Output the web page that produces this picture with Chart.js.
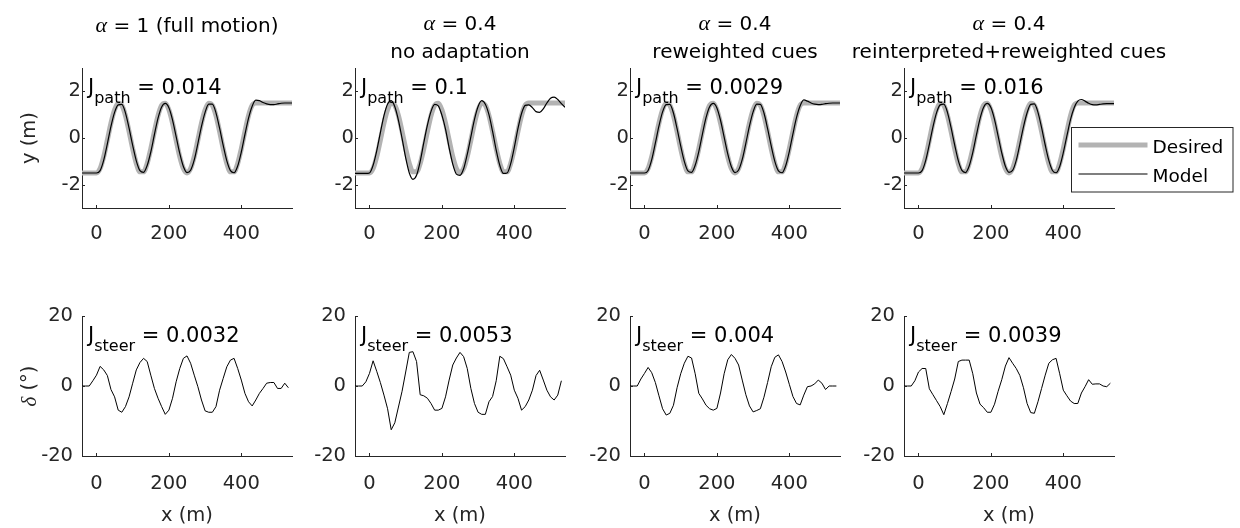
<!DOCTYPE html>
<html>
<head>
<meta charset="utf-8">
<script src="https://cdn.jsdelivr.net/npm/chart.js@4.4.0/dist/chart.umd.min.js"></script>
<style>
  html, body { margin: 0; padding: 0; background: #fff; }
  #fig { position: relative; width: 1240px; height: 528px; overflow: hidden; }
  #fig canvas { position: absolute; }
</style>
</head>
<body>
<div id="fig"></div>
<script>
// x positions along the track (m)
var xPath = [-40,-30,-20,-10,0,10,20,30,40,50,60,70,80,90,100,110,120,130,140,150,160,170,180,190,200,
  210,220,230,240,250,260,270,280,290,300,310,320,330,340,350,360,370,380,390,400,410,420,430,440,450,
  460,470,480,490,500,510,520,530,540];
var xSteer = [-40,-30,-20,-10,0,10,20,30,40,50,60,70,80,90,100,110,120,130,140,150,160,170,180,190,200,
  210,220,230,240,250,260,270,280,290,300,310,320,330,340,350,360,370,380,390,400,410,420,430,440,450,
  460,470,480,490,500,510,520,530];

// desired lateral path (m)
var yDesired = [-1.5,-1.5,-1.5,-1.5,-1.5,-1.31,-0.8,-0.09,0.64,1.21,1.49,1.4,0.96,0.28,-0.46,-1.09,-1.45,
  -1.45,-1.09,-0.46,0.28,0.96,1.4,1.49,1.21,0.64,-0.09,-0.8,-1.31,-1.5,-1.31,-0.8,-0.09,0.64,1.21,1.49,
  1.4,0.96,0.28,-0.46,-1.09,-1.45,-1.45,-1.09,-0.46,0.28,0.96,1.4,1.5,1.5,1.5,1.5,1.5,1.5,1.5,1.5,1.5,1.5,1.5];

// model lateral path (m), one per condition
var yModelFull = [-1.5,-1.5,-1.5,-1.5,-1.5,-1.4,-0.95,-0.25,0.5,1.1,1.42,1.44,1.08,0.42,-0.32,-0.98,-1.4,
  -1.47,-1.18,-0.6,0.15,0.85,1.33,1.48,1.3,0.78,0.06,-0.66,-1.22,-1.48,-1.38,-0.94,-0.24,0.5,1.1,1.45,
  1.45,1.08,0.42,-0.32,-0.98,-1.4,-1.49,-1.2,-0.6,0.15,0.85,1.36,1.62,1.6,1.52,1.46,1.43,1.43,1.46,1.49,1.5,1.5,1.5];
var yModelNoAdapt = [-1.52,-1.52,-1.52,-1.52,-1.5,-1.17,-0.55,0.22,0.96,1.46,1.6,1.34,0.76,-0.02,-0.85,-1.5,
  -1.77,-1.6,-1.0,-0.2,0.55,1.14,1.44,1.38,0.98,0.38,-0.42,-1.12,-1.55,-1.6,-1.32,-0.7,0.05,0.8,1.35,1.6,
  1.45,1.0,0.28,-0.52,-1.18,-1.52,-1.5,-1.1,-0.4,0.4,1.05,1.4,1.42,1.3,1.13,1.1,1.25,1.5,1.7,1.75,1.65,1.47,1.32];
var yModelReweight = [-1.5,-1.5,-1.5,-1.5,-1.5,-1.39,-0.93,-0.22,0.52,1.12,1.43,1.44,1.07,0.4,-0.34,-1.0,-1.41,
  -1.47,-1.17,-0.58,0.17,0.87,1.34,1.48,1.29,0.76,0.04,-0.68,-1.23,-1.48,-1.37,-0.92,-0.22,0.52,1.12,1.45,
  1.44,1.07,0.4,-0.34,-1.0,-1.41,-1.49,-1.19,-0.58,0.18,0.88,1.38,1.63,1.58,1.5,1.45,1.43,1.44,1.47,1.49,1.5,1.5,1.5];
var yModelReinterp = [-1.5,-1.5,-1.5,-1.5,-1.5,-1.4,-0.96,-0.27,0.48,1.09,1.42,1.45,1.1,0.44,-0.3,-0.97,-1.39,
  -1.48,-1.2,-0.62,0.13,0.83,1.32,1.48,1.31,0.8,0.08,-0.64,-1.21,-1.47,-1.39,-0.96,-0.26,0.48,1.08,1.44,
  1.46,1.1,0.44,-0.3,-0.96,-1.39,-1.49,-1.22,-0.63,0.1,0.8,1.3,1.58,1.65,1.58,1.49,1.43,1.42,1.44,1.46,1.47,1.47,1.47];

// steering angle (deg), one per condition
var steerFull = [0,0,0,1.5,3.1,5.6,4.6,3,-1,-3.1,-6.9,-7.5,-5.9,-3.1,0.8,4.6,6.7,7.9,7,3.1,-0.7,-3.5,-5.9,
  -8.1,-6.9,-3.5,1.2,5,7.9,8.6,6.5,3.1,-0.2,-4,-7.1,-7.5,-7.5,-5.9,-1.2,2.2,5.5,7.4,7.9,5,1.7,-2.1,-4.5,
  -5.7,-4,-2.1,-0.7,0.8,1,1,-0.7,-0.7,0.8,-0.5];
var steerNoAdapt = [0,0,0,1.2,3.6,7.2,4.2,1,-2.6,-6.5,-12.5,-10.5,-6,-1.5,4,9.6,9.8,7,-2.5,-2.8,-3.5,-5,-6.9,
  -6.9,-6.4,-3.1,1.7,6,8,9.6,8.4,5,-0.7,-5,-7.5,-8.1,-8.1,-4.5,-3,1.5,8.5,7.8,5.5,3.1,-1.2,-3.5,-6.9,
  -5.9,-4,-1.2,3,4.5,1.7,-1.2,-3.1,-4,-2.6,1.5];
var steerReweight = [0,0,0,2,3.6,5.3,3.8,1,-2.8,-6.5,-8.3,-7.8,-5.5,-0.5,3.5,6.5,8.5,8,3.5,-2.1,-3.7,-5.5,
  -6.5,-6.9,-6.4,-2,3.5,7.5,9,7.9,6,1.7,-2.5,-5.7,-7.4,-7,-6.5,-3.2,1,5.5,8.2,8.9,7,4,0.5,-3,-5,-5.4,
  -2.6,-0.2,0,0.6,1.7,0.8,-1,0,0,0];
var steerReinterp = [0,0,0,1.5,4,5,5,-0.8,-2.5,-4.2,-5.9,-8.2,-5,-1.6,2,7,7.4,7.4,7.4,3.5,-2,-5.2,-6.2,
  -7.5,-7.5,-5.2,-1.5,1.8,5.7,8.1,6.5,5,3,-0.5,-5,-7.6,-7.8,-4.5,-0.7,3.1,6.5,7.5,7.9,3.5,-1.2,-2.8,-4.3,
  -5,-5,-2,-0.2,1.8,0.5,0.6,0.6,0,-0.2,0.8];

var modelPaths = [yModelFull, yModelNoAdapt, yModelReweight, yModelReinterp];
var steerSeries = [steerFull, steerNoAdapt, steerReweight, steerReinterp];

// panel titles: alpha value and condition
var alphaLabels = ['1 (full motion)', '0.4', '0.4', '0.4'];
var conditionLabels = ['', 'no adaptation', 'reweighted cues', 'reinterpreted+reweighted cues'];
var jPath = ['0.014', '0.1', '0.0029', '0.016'];
var jSteer = ['0.0032', '0.0053', '0.004', '0.0039'];

var xTicks = [0, 200, 400];
var pathTicks = [-2, 0, 2];
var steerTicks = [-20, 0, 20];

var SANS = '"DejaVu Sans", sans-serif';
var GREEK = 'italic 22px "Liberation Serif", serif';
var AXIS = '#262626';
var AREA_W = 210;
var colLeft = [82, 355, 630, 904];
var rows = [
  { top: 0, height: 250, areaTop: 68, areaBottom: 208, ymin: -3, ymax: 3, ticks: pathTicks, yPad: 1, xPad: 14 },
  { top: 250, height: 278, areaTop: 66, areaBottom: 206, ymin: -20, ymax: 20, ticks: steerTicks, yPad: 9, xPad: 16 }
];

// draws a list of text runs side by side, each with its own font and vertical shift
function drawRuns(ctx, runs, x, y, align) {
  var total = 0;
  runs.forEach(function (r) { ctx.font = r.font; r.w = ctx.measureText(r.text).width; total += r.w; });
  var cx = align === 'center' ? x - total / 2 : x;
  runs.forEach(function (r) {
    ctx.font = r.font;
    ctx.fillText(r.text, cx, y + (r.dy || 0));
    cx += r.w;
  });
}

var panelText = {
  id: 'panelText',
  afterDraw: function (chart, args, o) {
    var ctx = chart.ctx, a = chart.chartArea;
    var xs = chart.scales.x, ys = chart.scales.y;
    ctx.save();
    // inward tick marks
    ctx.strokeStyle = AXIS;
    ctx.lineWidth = 1;
    ctx.beginPath();
    xTicks.forEach(function (v) {
      var px = Math.round(xs.getPixelForValue(v)) + 0.5;
      ctx.moveTo(px, a.bottom); ctx.lineTo(px, a.bottom - 3);
    });
    o.yTicks.forEach(function (v) {
      var py = Math.round(ys.getPixelForValue(v)) + 0.5;
      ctx.moveTo(a.left, py); ctx.lineTo(a.left + 3, py);
    });
    ctx.stroke();

    ctx.fillStyle = '#000';
    ctx.textBaseline = 'alphabetic';
    ctx.textAlign = 'left';
    // cost annotation
    drawRuns(ctx, [
      { text: 'J', font: '21px ' + SANS },
      { text: o.sub, font: '16px ' + SANS, dy: 9 },
      { text: ' = ' + o.value, font: '21px ' + SANS }
    ], a.left + 6, a.top + 25.5, 'left');

    var cx = (a.left + a.right) / 2;
    if (o.alpha) {
      var line1 = [{ text: 'α', font: GREEK }, { text: ' = ' + o.alpha, font: '20px ' + SANS }];
      if (o.condition) {
        drawRuns(ctx, line1, cx, 29.5, 'center');
        drawRuns(ctx, [{ text: o.condition, font: '20px ' + SANS }], cx, 58, 'center');
      } else {
        drawRuns(ctx, line1, cx, 31.5, 'center');
      }
    }
    ctx.fillStyle = AXIS;
    if (o.xLabel) {
      drawRuns(ctx, [{ text: o.xLabel, font: '19.5px ' + SANS }], cx, a.bottom + 65, 'center');
    }
    if (o.yLabel) {
      ctx.save();
      ctx.translate(30, (a.top + a.bottom) / 2);
      ctx.rotate(-Math.PI / 2);
      ctx.textBaseline = 'middle';
      drawRuns(ctx, o.yLabel, 0, 0, 'center');
      ctx.restore();
    }
    if (o.legend) {
      // legend box sits over the right edge of the last path panel
      var lx = a.left + 167.5, ly = a.top + 59.5;
      ctx.fillStyle = '#fff';
      ctx.fillRect(lx, ly, 161.5, 64.5);
      ctx.strokeStyle = AXIS;
      ctx.lineWidth = 1;
      ctx.strokeRect(lx, ly, 161.5, 64.5);
      ctx.lineCap = 'butt';
      ctx.strokeStyle = '#b3b3b3'; ctx.lineWidth = 5;
      ctx.beginPath(); ctx.moveTo(lx + 7, ly + 17.5); ctx.lineTo(lx + 76, ly + 17.5); ctx.stroke();
      ctx.strokeStyle = '#000'; ctx.lineWidth = 1.2;
      ctx.beginPath(); ctx.moveTo(lx + 7, ly + 46.5); ctx.lineTo(lx + 76, ly + 46.5); ctx.stroke();
      ctx.fillStyle = '#000';
      ctx.font = '18.5px ' + SANS;
      ctx.textBaseline = 'alphabetic';
      ctx.fillText('Desired', lx + 81, ly + 25);
      ctx.fillText('Model', lx + 81, ly + 54);
    }
    ctx.restore();
  }
};
Chart.register(panelText);

function points(xv, yv) {
  return xv.map(function (x, i) { return { x: x, y: yv[i] }; });
}

function makePanel(col, rowIdx) {
  var row = rows[rowIdx];
  var fig = document.getElementById('fig');
  var cv = document.createElement('canvas');
  var left = colLeft[col] - 82;
  var width = col === 3 ? 1240 - left : 352;
  cv.width = width; cv.height = row.height;
  cv.style.left = left + 'px'; cv.style.top = row.top + 'px';
  cv.style.width = width + 'px'; cv.style.height = row.height + 'px';
  fig.appendChild(cv);

  var datasets;
  if (rowIdx === 0) {
    datasets = [
      { label: 'Model', data: points(xPath, modelPaths[col]), borderColor: '#000', borderWidth: 1.2,
        pointRadius: 0, cubicInterpolationMode: 'monotone', order: 1 },
      { label: 'Desired', data: points(xPath, yDesired), borderColor: '#b3b3b3', borderWidth: 5,
        pointRadius: 0, cubicInterpolationMode: 'monotone', order: 2 }
    ];
  } else {
    datasets = [
      { label: 'Model', data: points(xSteer, steerSeries[col]), borderColor: '#000', borderWidth: 1,
        pointRadius: 0, tension: 0 }
    ];
  }

  var opts = {
    yTicks: row.ticks,
    sub: rowIdx === 0 ? 'path' : 'steer',
    value: rowIdx === 0 ? jPath[col] : jSteer[col]
  };
  if (rowIdx === 0) {
    opts.alpha = alphaLabels[col];
    opts.condition = conditionLabels[col];
    if (col === 0) opts.yLabel = [{ text: 'y (m)', font: '19.5px ' + SANS }];
    if (col === 3) opts.legend = true;
  } else {
    opts.xLabel = 'x (m)';
    if (col === 0) opts.yLabel = [{ text: 'δ', font: 'italic 21px "Liberation Serif", serif' },
                                  { text: ' (°)', font: '19.5px ' + SANS }];
  }

  new Chart(cv, {
    type: 'line',
    data: { datasets: datasets },
    options: {
      responsive: false,
      animation: false,
      events: [],
      layout: { padding: { top: row.areaTop, right: width - 82 - AREA_W, left: 0, bottom: 0 } },
      plugins: { legend: { display: false }, tooltip: { enabled: false }, panelText: opts },
      scales: {
        x: {
          type: 'linear', min: -40, max: 540,
          afterBuildTicks: function (s) { s.ticks = xTicks.map(function (v) { return { value: v }; }); },
          afterFit: function (s) { s.height = row.height - row.areaBottom; },
          grid: { display: false, drawTicks: false },
          border: { display: true, color: AXIS, width: 1 },
          ticks: { color: AXIS, font: { family: 'DejaVu Sans', size: 19.5 }, padding: row.xPad,
                   maxRotation: 0, autoSkip: false }
        },
        y: {
          type: 'linear', min: row.ymin, max: row.ymax,
          afterBuildTicks: function (s) { s.ticks = row.ticks.map(function (v) { return { value: v }; }); },
          afterFit: function (s) { s.width = 82; },
          grid: { display: false, drawTicks: false },
          border: { display: true, color: AXIS, width: 1 },
          ticks: { color: AXIS, font: { family: 'DejaVu Sans', size: 19.5 }, padding: row.yPad }
        }
      }
    }
  });
}

for (var c = 0; c < 4; c++) {
  makePanel(c, 0);
  makePanel(c, 1);
}
</script>
</body>
</html>
